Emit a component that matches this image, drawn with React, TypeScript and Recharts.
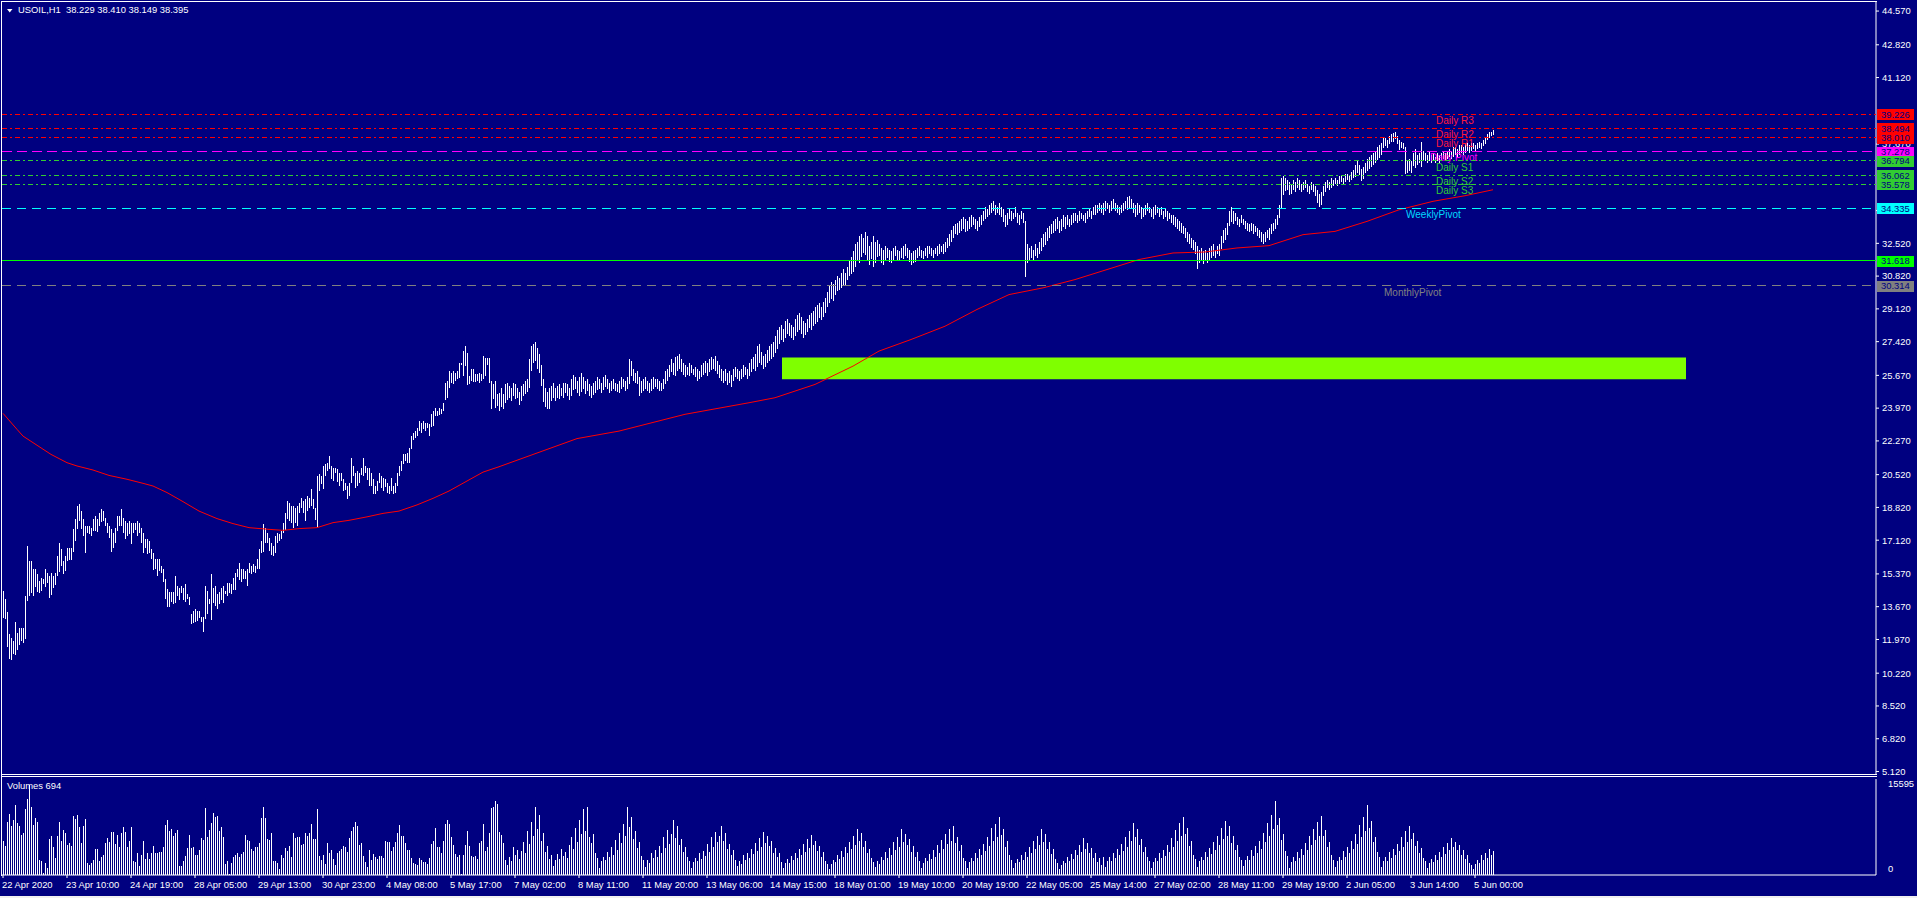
import React from 'react';
import {
  ComposedChart,
  BarChart,
  Bar,
  Line,
  XAxis,
  YAxis,
  ReferenceLine,
  ReferenceArea,
} from 'recharts';

const BG = '#000080';
const FONT = "'Liberation Sans', Arial, sans-serif";
const SLOTS = 937;

const title = 'USOIL,H1  38.229 38.410 38.149 38.395';
const volumeTitle = 'Volumes 694';

// H1 bars, low / high
const lows = [
  13.11, 13.02, 11.56, 10.95, 10.95, 11.21, 11.12, 11.47, 11.73, 11.9,
  11.81, 11.99, 13.97, 14.23, 14.41, 14.23, 14.66, 14.41, 14.41, 14.49,
  14.84, 14.66, 14.92, 14.15, 14.32, 14.66, 14.84, 15.27, 15.44, 15.79,
  15.36, 15.53, 16.05, 16.13, 16.13, 16.48, 17.08, 17.69, 18.12, 17.69,
  17.34, 16.48, 17.51, 17.43, 17.34, 17.6, 17.6, 17.51, 17.86, 18.03,
  18.12, 17.86, 17.51, 17.25, 16.48, 16.74, 16.99, 17.6, 17.86, 17.86,
  17.51, 17.17, 17.34, 17.43, 16.96, 17.51, 17.69, 17.34, 17.51, 16.99,
  16.48, 16.74, 16.39, 16.48, 16.13, 15.61, 15.61, 15.27, 15.53, 15.44,
  14.92, 14.06, 13.63, 13.63, 13.89, 13.8, 13.89, 14.23, 14.06, 14.41,
  14.06, 13.89, 14.06, 13.71, 12.76, 12.85, 12.85, 12.94, 13.11, 12.85,
  12.33, 13.02, 13.28, 13.8, 12.97, 13.89, 13.71, 13.54, 13.8, 14.06,
  13.89, 14.32, 14.23, 14.41, 14.32, 14.58, 14.58, 15.18, 15.1, 14.92,
  15.1, 15.1, 14.75, 15.44, 15.36, 15.44, 15.44, 15.61, 15.61, 16.48,
  16.48, 16.99, 16.99, 16.56, 16.39, 16.3, 16.48, 16.99, 17.08, 17.17,
  17.51, 17.69, 18.2, 18.12, 18.03, 17.77, 18.03, 17.86, 18.55, 18.81,
  18.55, 18.12, 18.64, 18.81, 18.9, 18.72, 18.2, 17.77, 19.67, 20.02,
  19.76, 20.45, 20.71, 20.8, 20.28, 20.19, 20.62, 20.1, 19.93, 20.19,
  19.67, 19.76, 19.24, 19.41, 20.1, 20.45, 19.85, 19.93, 20.1, 20.54,
  20.45, 20.62, 20.28, 19.93, 19.93, 19.5, 19.5, 19.67, 20.1, 19.85,
  19.67, 19.85, 19.59, 19.5, 19.67, 19.5, 19.59, 19.93, 20.45, 20.71,
  21.05, 21.23, 21.14, 21.14, 21.83, 22.35, 22.44, 22.52, 22.78, 22.69,
  22.87, 22.78, 22.95, 22.52, 22.95, 23.04, 23.56, 23.56, 23.65, 23.65,
  23.82, 24.42, 24.51, 25.03, 25.29, 25.2, 25.37, 25.46, 25.54, 26.23,
  25.63, 26.15, 25.2, 25.2, 25.37, 25.29, 25.29, 25.37, 25.29, 25.37,
  25.46, 25.63, 26.23, 25.29, 23.9, 24.42, 23.99, 24.08, 23.82, 24.0,
  23.9, 24.2, 24.4, 24.5, 24.3, 24.6, 24.4, 24.5, 24.1, 24.3,
  24.6, 24.7, 24.8, 25.0, 25.9, 26.3, 26.4, 26.0, 25.8, 25.1,
  24.3, 24.0, 23.9, 23.9, 24.3, 24.5, 24.3, 24.5, 24.4, 24.6,
  24.5, 24.8, 24.6, 24.4, 24.6, 24.9, 25.0, 24.8, 24.6, 24.8,
  25.0, 24.7, 24.9, 24.6, 24.5, 24.7, 24.8, 24.9, 25.0, 24.8,
  24.9, 25.1, 25.0, 24.8, 24.9, 25.0, 24.9, 24.8, 24.8, 25.0,
  25.1, 24.9, 25.0, 25.2, 25.6, 25.4, 25.3, 25.2, 24.6, 24.8,
  24.9, 25.0, 24.9, 24.8, 24.9, 25.0, 25.1, 25.0, 24.9, 24.9,
  25.0, 25.2, 25.4, 25.6, 25.8, 25.7, 25.6, 25.9, 26.0, 25.8,
  25.7, 25.6, 25.7, 25.6, 25.8, 25.7, 25.6, 25.4, 25.5, 25.6,
  25.7, 25.8, 25.6, 25.8, 25.9, 26.0, 25.9, 25.7, 25.5, 25.4,
  25.3, 25.4, 25.2, 25.3, 25.1, 25.4, 25.6, 25.5, 25.4, 25.5,
  25.6, 25.7, 25.5, 25.6, 25.8, 26.0, 25.9, 26.1, 26.3, 26.2,
  26.0, 26.1, 26.3, 26.4, 26.5, 26.6, 26.8, 27.0, 27.3, 27.5,
  27.4, 27.6, 27.8, 27.7, 27.6, 27.5, 27.7, 27.9, 28.0, 27.8,
  27.6, 27.8, 27.9, 28.1, 28.0, 28.2, 28.3, 28.4, 28.6, 28.5,
  28.7, 28.9, 29.2, 29.4, 29.6, 29.5, 29.8, 30.0, 30.1, 30.2,
  30.3, 30.4, 30.6, 30.8, 30.9, 31.0, 31.3, 31.6, 31.5, 31.8,
  32.0, 31.9, 31.6, 31.4, 31.7, 31.3, 31.5, 31.8, 31.9, 31.5,
  31.4, 31.6, 31.8, 31.6, 31.5, 31.7, 31.9, 31.7, 31.6, 31.8,
  31.7, 31.9, 31.8, 31.6, 31.4, 31.5, 31.6, 31.8, 31.9, 31.8,
  31.7, 31.9, 31.8, 32.0, 31.9, 31.8, 32.0, 31.9, 32.0, 32.1,
  32.0, 32.1, 32.3, 32.4, 32.6, 32.8, 33.0, 33.0, 33.1, 33.2,
  33.3, 33.1, 33.2, 33.3, 33.4, 33.5, 33.3, 33.2, 33.4, 33.5,
  33.7, 33.8, 33.9, 34.0, 34.1, 34.2, 34.0, 34.1, 34.0, 33.9,
  33.6, 33.4, 33.5, 33.8, 33.7, 33.8, 33.9, 33.6, 33.5, 33.8,
  33.6, 30.8, 31.5, 31.6, 31.8, 31.7, 31.9, 31.8, 32.0, 32.1,
  32.3, 32.4, 32.6, 32.8, 33.0, 33.1, 33.2, 33.3, 33.1, 33.2,
  33.4, 33.3, 33.5, 33.4, 33.5, 33.6, 33.7, 33.6, 33.7, 33.8,
  33.7, 33.6, 33.8, 33.9, 33.8, 34.0, 34.0, 34.1, 34.2, 34.1,
  34.0, 34.2, 34.3, 34.1, 34.2, 34.3, 34.2, 34.1, 34.0, 34.1,
  34.2, 34.3, 34.2, 34.4, 34.3, 34.1, 33.9, 34.0, 34.1, 33.8,
  33.9, 34.0, 34.2, 34.1, 33.9, 33.8, 34.0, 34.1, 33.9, 34.0,
  33.8, 33.9, 33.7, 33.8, 33.6, 33.5, 33.4, 33.3, 33.2, 33.1,
  33.0, 32.8, 32.6, 32.5, 32.3, 32.2, 32.0, 31.2, 31.5, 31.6,
  31.4, 31.7, 31.5, 31.6, 31.8, 31.9, 31.8, 32.0, 31.9, 32.2,
  32.5, 32.7, 33.0, 33.4, 33.6, 33.5, 33.7, 33.5, 33.4, 33.6,
  33.5, 33.3, 33.2, 33.1, 33.2, 33.0, 33.1, 32.9, 32.8, 32.6,
  32.5, 32.6, 32.8, 32.7, 33.0, 33.2, 33.3, 33.5, 33.8, 34.3,
  35.0, 35.2, 35.3, 35.0, 35.1, 35.3, 35.2, 35.4, 35.3, 35.2,
  35.3, 35.4, 35.2, 35.1, 35.3, 35.2, 35.0, 34.6, 34.4, 34.5,
  35.0, 35.2, 35.4, 35.3, 35.4, 35.5, 35.6, 35.5, 35.6, 35.7,
  35.6, 35.7, 35.8, 35.7, 35.8, 35.9, 36.0, 36.2, 36.1, 35.8,
  35.9, 36.2, 36.3, 36.4, 36.5, 36.6, 36.7, 36.8, 36.9, 37.1,
  37.5, 37.6, 37.5, 37.7, 37.8, 37.8, 37.9, 37.7, 37.4, 37.5,
  37.4, 36.1, 36.2, 36.3, 36.2, 36.5, 36.4, 36.6, 36.7, 36.5,
  36.8, 36.8, 36.7, 36.8, 36.7, 36.8, 36.7, 36.8, 36.7, 36.8,
  36.9, 36.8, 36.9, 37.0, 36.9, 37.0, 37.1, 37.0, 37.1, 37.2,
  37.1, 37.2, 37.3, 37.2, 37.3, 37.4, 37.3, 37.4, 37.5, 37.4,
  37.6, 37.7, 37.9, 38.0, 38.1, 38.15,
];

const highs = [
  14.49, 14.06, 13.37, 12.25, 12.07, 11.9, 12.85, 12.33, 12.59, 12.59,
  12.59, 14.23, 16.82, 16.05, 16.05, 15.61, 15.61, 15.36, 15.01, 15.18,
  15.1, 15.61, 15.44, 15.27, 15.44, 15.27, 15.44, 16.3, 16.96, 16.65,
  16.05, 16.3, 16.74, 16.74, 16.74, 17.69, 18.2, 18.9, 18.98, 18.64,
  18.2, 17.86, 17.86, 17.86, 17.77, 18.2, 18.38, 18.2, 18.55, 18.72,
  18.64, 18.29, 18.03, 17.86, 17.69, 17.51, 17.77, 18.38, 18.38, 18.72,
  18.29, 18.12, 18.03, 18.12, 18.03, 18.03, 18.03, 18.12, 18.03, 17.77,
  17.51, 17.2, 17.17, 17.08, 16.65, 16.48, 16.13, 16.13, 16.13, 15.79,
  15.61, 15.1, 14.58, 14.41, 14.41, 14.41, 15.27, 14.75, 14.66, 14.75,
  14.66, 14.84, 14.32, 14.15, 13.28, 13.46, 13.54, 13.46, 13.46, 13.11,
  13.11, 14.75, 14.49, 14.06, 15.36, 14.66, 14.75, 14.32, 14.41, 14.66,
  14.75, 14.49, 14.92, 14.92, 14.84, 15.18, 15.44, 15.61, 15.96, 15.61,
  15.61, 15.53, 15.61, 15.96, 15.79, 15.88, 15.79, 16.13, 16.65, 17.08,
  17.95, 17.77, 17.51, 17.25, 16.99, 16.82, 17.34, 17.51, 17.43, 17.6,
  18.03, 18.55, 19.15, 19.07, 18.9, 18.9, 18.81, 18.9, 19.07, 19.33,
  19.15, 19.24, 19.41, 19.33, 19.76, 19.24, 18.81, 20.45, 20.54, 20.45,
  20.97, 21.05, 21.14, 21.49, 20.97, 20.88, 20.88, 20.8, 20.62, 20.62,
  20.28, 20.1, 19.93, 20.1, 21.4, 20.97, 20.62, 20.71, 20.62, 20.88,
  21.4, 20.97, 20.88, 20.88, 20.62, 20.28, 19.93, 20.19, 20.62, 20.45,
  20.36, 20.28, 20.1, 19.93, 20.36, 19.93, 20.1, 20.62, 20.97, 21.23,
  21.57, 21.57, 21.66, 21.92, 22.52, 22.69, 22.78, 22.95, 23.3, 23.21,
  23.3, 23.21, 23.21, 23.13, 23.65, 23.82, 23.99, 23.82, 23.99, 23.9,
  24.25, 25.29, 25.37, 25.89, 25.8, 25.89, 25.8, 25.89, 26.32, 26.32,
  26.93, 27.18, 26.84, 25.63, 25.98, 25.98, 25.72, 25.72, 25.8, 25.72,
  26.67, 26.58, 26.58, 26.58, 25.37, 25.2, 25.37, 24.68, 24.76, 25.0,
  24.7, 25.2, 25.3, 25.1, 25.0, 25.3, 25.2, 25.0, 24.8, 25.1,
  25.2, 25.4, 25.5, 26.5, 27.2, 27.3, 27.4, 27.1, 26.8, 26.2,
  25.5, 25.0, 24.8, 25.0, 25.1, 25.3, 25.0, 25.1, 25.2, 25.0,
  25.3, 25.3, 25.2, 25.0, 25.5, 25.7, 25.6, 25.4, 25.6, 25.8,
  25.6, 25.4, 25.5, 25.2, 25.1, 25.3, 25.4, 25.6, 25.5, 25.3,
  25.6, 25.7, 25.5, 25.3, 25.4, 25.5, 25.3, 25.2, 25.4, 25.6,
  25.5, 25.4, 25.6, 26.5, 26.4, 26.0, 25.8, 25.9, 25.6, 25.4,
  25.5, 25.6, 25.4, 25.3, 25.5, 25.6, 25.5, 25.5, 25.4, 25.3,
  25.5, 25.9, 26.0, 26.2, 26.5, 26.3, 26.6, 26.7, 26.8, 26.5,
  26.3, 26.2, 26.1, 26.3, 26.2, 26.0, 26.1, 26.0, 25.9, 26.2,
  26.3, 26.4, 26.3, 26.5, 26.6, 26.5, 26.7, 26.4, 26.2, 26.0,
  25.9, 26.0, 25.8, 25.9, 25.7, 26.0, 26.1, 26.0, 25.9, 26.0,
  26.2, 26.1, 26.0, 26.3, 26.5, 26.6, 26.8, 27.2, 27.3, 26.9,
  26.7, 26.8, 27.0, 27.2, 27.3, 27.4, 27.7, 28.0, 28.2, 28.3,
  28.1, 28.5, 28.6, 28.4, 28.3, 28.2, 28.6, 28.8, 28.9, 28.7,
  28.5, 28.4, 28.6, 28.8, 28.9, 29.0, 29.2, 29.3, 29.4, 29.2,
  29.5, 29.7, 30.0, 30.3, 30.5, 30.4, 30.6, 30.8, 30.7, 31.0,
  31.2, 31.0, 31.3, 31.6, 31.8, 32.1, 32.5, 32.6, 32.9, 33.0,
  32.8, 33.1, 32.9, 32.4, 32.6, 32.9, 32.6, 32.7, 32.5, 32.3,
  32.2, 32.4, 32.3, 32.2, 32.1, 32.3, 32.4, 32.2, 32.1, 32.3,
  32.4, 32.5, 32.3, 32.2, 32.0, 32.1, 32.2, 32.3, 32.4, 32.2,
  32.1, 32.3, 32.4, 32.4, 32.3, 32.2, 32.3, 32.4, 32.5, 32.4,
  32.5, 32.6, 32.8, 33.0, 33.2, 33.4, 33.5, 33.6, 33.7, 33.8,
  33.9, 33.8, 33.7, 33.9, 34.0, 33.9, 33.8, 33.7, 33.9, 34.0,
  34.2, 34.4, 34.3, 34.5, 34.6, 34.7, 34.5, 34.4, 34.6, 34.4,
  34.3, 34.0, 34.1, 34.3, 34.2, 34.1, 34.4, 34.1, 34.0, 34.2,
  34.1, 33.7, 32.5, 32.3, 32.4, 32.2, 32.5, 32.3, 32.6, 32.8,
  33.0, 33.1, 33.3, 33.4, 33.5, 33.7, 33.8, 33.9, 33.7, 33.8,
  34.0, 33.9, 34.0, 33.8, 34.0, 34.1, 34.1, 34.0, 34.2, 34.1,
  34.0, 34.1, 34.2, 34.3, 34.2, 34.4, 34.5, 34.5, 34.6, 34.5,
  34.6, 34.7, 34.6, 34.5, 34.7, 34.8, 34.6, 34.5, 34.4, 34.5,
  34.6, 34.7, 34.9, 35.0, 34.8, 34.6, 34.5, 34.6, 34.5, 34.4,
  34.3, 34.5, 34.6, 34.4, 34.3, 34.4, 34.5, 34.4, 34.3, 34.4,
  34.2, 34.3, 34.2, 34.1, 34.0, 34.0, 33.9, 33.8, 33.7, 33.6,
  33.4, 33.3, 33.1, 33.0, 32.8, 32.7, 32.6, 32.4, 32.2, 32.3,
  32.1, 32.2, 32.0, 32.3, 32.4, 32.5, 32.2, 32.4, 32.5, 32.9,
  33.2, 33.3, 33.6, 34.2, 34.4, 34.2, 34.1, 33.9, 33.8, 34.0,
  33.8, 33.7, 33.6, 33.5, 33.6, 33.5, 33.4, 33.3, 33.2, 33.1,
  33.0, 33.1, 33.2, 33.3, 33.5, 33.6, 33.8, 34.0, 34.5, 35.9,
  36.0, 35.9, 35.8, 35.7, 35.6, 35.8, 35.7, 35.9, 35.8, 35.6,
  35.7, 35.8, 35.6, 35.5, 35.7, 35.6, 35.5, 35.3, 35.1, 35.2,
  35.5, 35.7, 35.8, 35.7, 35.9, 35.8, 35.9, 35.8, 36.0, 36.0,
  35.9, 36.1, 36.1, 36.0, 36.2, 36.3, 36.6, 36.8, 36.6, 36.4,
  36.5, 36.7, 36.9, 37.0, 37.1, 37.2, 37.3, 37.5, 37.6, 37.7,
  38.0, 38.0, 37.9, 38.1, 38.2, 38.25, 38.27, 38.1, 37.9, 37.8,
  37.7, 37.5, 36.8, 36.9, 36.8, 37.2, 37.4, 37.1, 37.2, 37.8,
  37.3, 37.2, 37.1, 37.3, 37.1, 37.2, 37.0, 37.2, 37.1, 37.2,
  37.3, 37.2, 37.3, 37.4, 37.3, 37.5, 37.5, 37.4, 37.6, 37.6,
  37.5, 37.7, 37.7, 37.6, 37.7, 37.7, 37.6, 37.7, 37.8, 37.7,
  37.9, 38.0, 38.2, 38.3, 38.3, 38.41,
];

const volumes = [
  5500, 4700, 8650, 9900, 7950, 8900, 11350, 8400, 7950, 6500,
  6850, 10700, 12280, 14600, 11000, 8100, 9200, 8550, 2430, 2270,
  300, 1900, 1080, 5840, 6330, 4490, 2700, 6330, 8550, 5570,
  7300, 6870, 4870, 5140, 4700, 9580, 9090, 9740, 7840, 5250,
  8000, 9090, 1890, 1620, 1890, 2430, 4160, 4160, 2330, 2870,
  3250, 5250, 5950, 5410, 6920, 6920, 5030, 6490, 4600, 6870,
  7740, 7030, 4490, 5520, 7740, 2270, 2060, 3620, 1460, 3250,
  5520, 2540, 3620, 2540, 3520, 4700, 3620, 3620, 3790, 3790,
  4490, 8120, 8930, 7140, 7410, 6330, 6870, 7300, 1460, 1460,
  2330, 3080, 4440, 6490, 4440, 4490, 3250, 3250, 4060, 6060,
  5680, 10930, 6220, 7300, 8390, 10120, 9470, 9630, 7140, 7840,
  6220, 1730, 2330, 110, 2000, 2870, 3250, 3620, 2980, 3410,
  3790, 6490, 5680, 5570, 4160, 3900, 4490, 4490, 5250, 9200,
  10980, 9200, 5790, 5680, 6870, 2330, 2330, 2000, 920, 3250,
  2700, 4330, 3950, 4700, 2870, 6760, 6060, 6220, 6220, 4870,
  5030, 6760, 6330, 6760, 8220, 5790, 5790, 10710, 3080, 2430,
  3250, 1730, 5250, 3620, 4060, 2540, 1620, 3620, 3950, 4160,
  4700, 4490, 3790, 5950, 7140, 7740, 8660, 7950, 4870, 5140,
  3080, 2160, 1350, 4060, 2430, 3350, 2980, 2540, 3080, 3080,
  2700, 5570, 5410, 5410, 3900, 4490, 5410, 6760, 8120, 6330,
  6330, 5250, 4060, 4060, 2700, 2000, 1730, 1620, 2810, 2430,
  2160, 2160, 1730, 2810, 5030, 5570, 7570, 4490, 4490, 3520,
  5570, 8280, 8930, 8220, 6220, 4870, 3350, 2870, 3250, 100,
  3250, 4870, 7140, 4700, 3080, 2870, 3080, 2540, 5250, 5520,
  8280, 3950, 4490, 6760, 10930, 11090, 12010, 11520, 7030,
  6500, 5200, 2400,
  1700, 2900, 2300, 4600, 3200, 4100, 2600, 3900, 5400, 3500, 7200, 5100,
  8600, 6300, 11000, 7400, 9800, 5600, 6900, 3800, 4700, 2600, 3300,
  1400, 2500, 3400, 2600, 4300, 3100, 3700, 2700, 4800, 6100, 4200, 7600,
  5300, 8900, 6600, 10800, 7200, 11000, 6100, 5200, 6600, 3600, 2800,
  1100, 2200, 3000, 2400, 3800, 2900, 4500, 3300, 5700, 4100, 6900, 5200,
  8300, 6400, 11000, 7800, 9400, 5900, 7100, 4400, 5300, 3100, 2500,
  1300, 2400, 1900, 3600, 2700, 4100, 3000, 4700, 3600, 6200, 4400, 7300,
  5100, 6700, 9000, 6000, 7900, 4800, 5900, 3700, 4600, 2900, 2200,
  1200, 2100, 2800, 2300, 3500, 2600, 3900, 3100, 5000, 3800, 6100, 4600,
  7000, 5300, 6400, 8000, 5600, 6800, 4200, 5100, 3300, 4000, 2400,
  1400, 2300, 1800, 3200, 2500, 3600, 2800, 4300, 3400, 5200, 3900, 6000,
  4500, 7000, 5200, 6300, 4700, 5500, 3600, 4400, 2900, 3500, 2100,
  1100, 1900, 2600, 2000, 3100, 2400, 3500, 2700, 4200, 3300, 5000, 3800,
  5800, 4400, 6500, 4900, 5600, 3900, 4700, 3000, 3800, 2300, 1800,
  1000, 1800, 2500, 2100, 3300, 2600, 3900, 3000, 4600, 3500, 5400, 4200,
  6300, 4800, 7500, 5600, 6800, 4600, 5500, 3500, 4300, 2700, 2100,
  1300, 2200, 1800, 3000, 2500, 3700, 2800, 4400, 3300, 5300, 4000, 6100,
  4600, 7500, 5400, 6700, 4900, 5900, 3800, 4700, 3000, 3700, 2200,
  1200, 2000, 2700, 2200, 3400, 2600, 4000, 3000, 4800, 3600, 5700, 4300,
  6600, 5000, 7400, 5500, 8000, 5200, 6100, 3900, 4800, 2800, 2200,
  1100, 2100, 2800, 2300, 3600, 2700, 4200, 3200, 5100, 3900, 6200, 4700,
  7600, 5600, 8300, 6200, 9500, 6500, 7400, 4600, 5500, 3200, 2500,
  1200, 2000, 2600, 2100, 3300, 2500, 3800, 2900, 4600, 3500, 5500, 4200,
  6400, 4900, 7500, 5400, 6600, 4300, 5300, 3400, 4200, 2600, 2000,
  1000, 1700, 2300, 1900, 2900, 2300, 3400, 2600, 4100, 3200, 4900, 3700,
  6000, 4300, 5200, 3600, 4400, 2800, 3500, 2100, 2700, 1600, 2900,
  1300, 2200, 2900, 2300, 3600, 2800, 4200, 3200, 5000, 3900, 6100, 4600,
  7200, 5500, 8500, 6100, 7400, 4900, 5900, 3800, 4600, 2900, 2300,
  1200, 2100, 2800, 2200, 3500, 2700, 4100, 3100, 4900, 3800, 6000, 4600,
  7300, 5500, 8400, 6300, 9500, 6600, 7700, 4700, 5600, 3300, 2600,
  1300, 2300, 3000, 2400, 3800, 2900, 4400, 3400, 5300, 4100, 6400, 4900,
  7600, 5800, 8800, 6400, 7900, 5200, 6300, 4000, 4900, 3000, 2400,
  1400, 2400, 3100, 2500, 4000, 3100, 4700, 3600, 5600, 4300, 6900, 5300,
  8400, 6300, 9700, 7400, 12000, 8100, 9300, 5700, 6700, 3900, 3100,
  1200, 2100, 2900, 2300, 3700, 2800, 4300, 3300, 5200, 4000, 6300, 4800,
  7500, 5700, 8600, 6400, 9600, 6300, 7300, 4500, 5400, 3200, 2500,
  1300, 2300, 3000, 2400, 3900, 3000, 4500, 3500, 5500, 4200, 6700, 5100,
  8100, 6100, 9500, 7200, 11400, 7600, 8700, 5300, 6200, 3700, 2900,
  1300, 2200, 2900, 2300, 3700, 2800, 4200, 3200, 5100, 3900, 6100, 4600,
  7100, 5400, 8000, 5800, 6900, 4700, 5600, 3600, 4400, 2800, 2200,
  1100, 1900, 2600, 2100, 3300, 2500, 3800, 2900, 4500, 3400, 5200, 4000,
  6000, 4500, 5400, 4100, 4800, 3300, 4000, 2600, 3200, 2000, 1600,
  1000, 1800, 2500, 2000, 3200, 2400, 3600, 2800, 4200, 3300, 3900,
];

// moving average, read at sample bars
const maBars = [
  0, 7, 10, 15, 24, 32, 37, 45, 53, 62, 70, 75, 82, 90, 98, 107, 115, 123, 132,
  140, 148, 157, 165, 173, 182, 190, 198, 207, 215, 223, 232, 240, 248, 287, 308,
  341, 373, 386, 406, 425, 438, 454, 471, 487, 503, 520, 536, 552, 568, 585, 601,
  617, 633, 650, 666, 682, 698, 715, 731, 745,
];
const maValues = [
  23.7, 22.87, 22.52, 22.18, 21.57, 21.14, 20.97, 20.76, 20.48, 20.28, 20.07,
  19.93, 19.59, 19.12, 18.63, 18.24, 17.98, 17.77, 17.69, 17.63, 17.72, 17.77,
  18.03, 18.15, 18.33, 18.51, 18.63, 18.95, 19.29, 19.67, 20.19, 20.65, 20.93,
  22.39, 22.78, 23.65, 24.25, 24.51, 25.2, 26.15, 26.93, 27.53, 28.22, 29.09,
  29.86, 30.21, 30.64, 31.16, 31.68, 32.02, 32.07, 32.28, 32.4, 32.97, 33.14,
  33.66, 34.26, 34.7, 34.99, 35.3,
];

const priceTicks = [
  44.57, 42.82, 41.12, 37.67, 34.22, 32.52, 30.82, 29.12, 27.42,
  25.67, 23.97, 22.27, 20.52, 18.82, 17.12, 15.37, 13.67, 11.97, 10.22, 8.52,
  6.82, 5.12,
];
const volumeTicks = [0, 15595];

const timeLabels = [
  '22 Apr 2020', '23 Apr 10:00', '24 Apr 19:00', '28 Apr 05:00', '29 Apr 13:00',
  '30 Apr 23:00', '4 May 08:00', '5 May 17:00', '7 May 02:00', '8 May 11:00',
  '11 May 20:00', '13 May 06:00', '14 May 15:00', '18 May 01:00', '19 May 10:00',
  '20 May 19:00', '22 May 05:00', '25 May 14:00', '27 May 02:00', '28 May 11:00',
  '29 May 19:00', '2 Jun 05:00', '3 Jun 14:00', '5 Jun 00:00',
];
const timeLabelStep = 32;

const levelValues = [39.226, 38.494, 38.01, 37.278, 36.794, 36.062, 35.578, 34.335, 31.618, 30.314];
const levelNames = [
  'Daily R3', 'Daily R2', 'Daily R1', 'Daily Pivot', 'Daily S1', 'Daily S2',
  'Daily S3', 'WeeklyPivot', '', 'MonthlyPivot',
];
const levelLabelBars = [717, 717, 717, 714, 717, 717, 717, 702, 0, 691];

const zoneBars = [390, 841];
const zonePrices = [25.47, 26.6];

// styles, one per level
const RED = { stroke: '#ff0000', dash: '5 3 2 3', text: '#ff1a3a', box: '#ff0000' };
const GREEN = { stroke: '#32cd32', dash: '5 3 2 3', text: '#32cd32', box: '#32cd32' };
const levelStyles = [
  RED, RED, RED,
  { stroke: '#ff00ff', dash: '10 5', text: '#ff00ff', box: '#ff00ff' },
  GREEN, GREEN, GREEN,
  { stroke: '#00ffff', dash: '9 6', text: '#00d8ff', box: '#00ffff' },
  { stroke: '#00ff00', dash: undefined, text: '#00ff00', box: '#00ff00' },
  { stroke: '#808080', dash: '9 6', text: '#808080', box: '#808080' },
];

const PRICE_DOMAIN: [number, number] = [4.99, 45.04];

const maLookup: Record<number, number> = {};
maBars.forEach((b, k) => {
  maLookup[b] = maValues[k];
});

const rows = Array.from({ length: SLOTS }, (_, i) => ({
  i,
  hl: i < lows.length ? [lows[i], highs[i]] : undefined,
  vol: i < volumes.length ? volumes[i] : undefined,
  ma: maLookup[i],
}));

const timeTicks = timeLabels.map((_, k) => k * timeLabelStep);

const Stick = (props: any) => {
  const { x, y, width, height } = props;
  if (x == null || y == null || height == null || isNaN(height)) return null;
  const top = Math.min(y, y + height);
  const h = Math.abs(height);
  return (
    <rect
      x={Math.floor(x + width / 2)}
      y={Math.round(top)}
      width={1}
      height={Math.max(1, Math.round(h))}
      fill="#ffffff"
      shapeRendering="crispEdges"
    />
  );
};

const LevelLabel = (props: any) => {
  const { viewBox, idx } = props;
  if (!viewBox) return null;
  const { x, y, width } = viewBox;
  const s = levelStyles[idx];
  const name = levelNames[idx];
  const tx = x + (width / SLOTS) * levelLabelBars[idx];
  return (
    <g>
      {name ? (
        <text x={tx} y={y + 9.7} fill={s.text} fontSize={10} fontFamily={FONT}>
          {name}
        </text>
      ) : null}
      <rect x={x + width + 1} y={Math.round(y) - 5} width={37} height={11} fill={s.box} />
      <text x={x + width + 5} y={y + 3.5} fill={BG} fontSize={9.4} fontFamily={FONT}>
        {levelValues[idx].toFixed(3)}
      </text>
    </g>
  );
};

const TimeTick = (props: any) => {
  const { x, y, payload } = props;
  const k = timeTicks.indexOf(payload.value);
  return (
    <text x={x - 1} y={y + 8} fill="#ffffff" fontSize={9.4} fontFamily={FONT}>
      {timeLabels[k]}
    </text>
  );
};

const VolumeTick = (props: any) => {
  const { x, y, payload } = props;
  return (
    <text x={x} y={payload.value === 0 ? y - 3.5 : y + 7.7} fill="#ffffff" fontSize={9.4} fontFamily={FONT}>
      {payload.value}
    </text>
  );
};

const line = (style: React.CSSProperties): React.CSSProperties => ({
  position: 'absolute',
  background: '#ffffff',
  pointerEvents: 'none',
  ...style,
});

const MAIN_MARGIN = { top: 2, right: 0, bottom: 2, left: 2 };

export default function App() {
  return (
    <div
      style={{
        position: 'absolute',
        left: 0,
        top: 0,
        width: 1917,
        height: 898,
        background: BG,
        overflow: 'hidden',
        fontFamily: FONT,
      }}
    >
      <div style={{ position: 'absolute', left: 0, top: 0 }}>
        <ComposedChart width={1917} height={776} data={rows} margin={MAIN_MARGIN}>
          <XAxis dataKey="i" hide />
          <YAxis
            orientation="right"
            width={41}
            domain={PRICE_DOMAIN}
            ticks={priceTicks}
            interval={0}
            allowDataOverflow
            stroke="#ffffff"
            tickSize={3}
            tickMargin={3}
            tick={{ fill: '#ffffff', fontSize: 9.4, fontFamily: FONT }}
            tickFormatter={(v: number) => v.toFixed(3)}
          />
          <ReferenceArea
            x1={zoneBars[0]}
            x2={zoneBars[1]}
            y1={zonePrices[0]}
            y2={zonePrices[1]}
            fill="#7fff00"
            fillOpacity={1}
            stroke="none"
          />
          <Bar dataKey="hl" barSize={1} shape={<Stick />} isAnimationActive={false} />
          <Line
            dataKey="ma"
            type="linear"
            stroke="#ff0000"
            strokeWidth={1}
            dot={false}
            connectNulls
            isAnimationActive={false}
          />
        </ComposedChart>
      </div>

      {/* pivot levels and their price boxes, drawn above the axis */}
      <div style={{ position: 'absolute', left: 0, top: 0, pointerEvents: 'none' }}>
        <ComposedChart width={1917} height={776} data={rows} margin={{ ...MAIN_MARGIN, right: 41 }}>
          <XAxis dataKey="i" hide />
          <YAxis hide domain={PRICE_DOMAIN} allowDataOverflow />
          {levelValues.map((v, k) => (
            <ReferenceLine
              key={k}
              y={v}
              stroke={levelStyles[k].stroke}
              strokeDasharray={levelStyles[k].dash}
              strokeWidth={1}
              shapeRendering="crispEdges"
              label={<LevelLabel idx={k} />}
            />
          ))}
        </ComposedChart>
      </div>

      <div style={{ position: 'absolute', left: 0, top: 777 }}>
        <BarChart width={1917} height={121} data={rows} margin={{ top: 2, right: 0, bottom: 0, left: 2 }}>
          <XAxis
            dataKey="i"
            ticks={timeTicks}
            interval={0}
            height={23}
            stroke="#ffffff"
            tickSize={3}
            tickMargin={2}
            tick={<TimeTick />}
          />
          <YAxis
            orientation="right"
            width={41}
            domain={[0, 15595]}
            ticks={volumeTicks}
            interval={0}
            allowDataOverflow
            stroke="#ffffff"
            tickLine={false}
            tickMargin={6}
            tick={<VolumeTick />}
          />
          <Bar dataKey="vol" barSize={1} shape={<Stick />} isAnimationActive={false} />
        </BarChart>
      </div>

      {/* window frame */}
      <div style={line({ left: 1, top: 1, width: 1876, height: 1 })} />
      <div style={line({ left: 1, top: 1, width: 1, height: 875 })} />
      <div style={line({ left: 1, top: 774, width: 1876, height: 1 })} />
      <div style={line({ left: 1, top: 776, width: 1876, height: 1 })} />
      <div style={{ position: 'absolute', left: 0, top: 896, width: 1917, height: 2, background: '#f0f0f0' }} />

      <svg style={{ position: 'absolute', left: 0, top: 0 }} width={20} height={20}>
        <polygon points="7,9 12.5,9 9.75,12.5" fill="#ffffff" />
      </svg>
      <div
        style={{
          position: 'absolute',
          left: 18,
          top: 4,
          color: '#ffffff',
          fontSize: 9.4,
          lineHeight: '12px',
          whiteSpace: 'pre',
        }}
      >
        {title}
      </div>
      <div
        style={{
          position: 'absolute',
          left: 7,
          top: 780,
          color: '#ffffff',
          fontSize: 9.4,
          lineHeight: '12px',
          whiteSpace: 'pre',
        }}
      >
        {volumeTitle}
      </div>
    </div>
  );
}
